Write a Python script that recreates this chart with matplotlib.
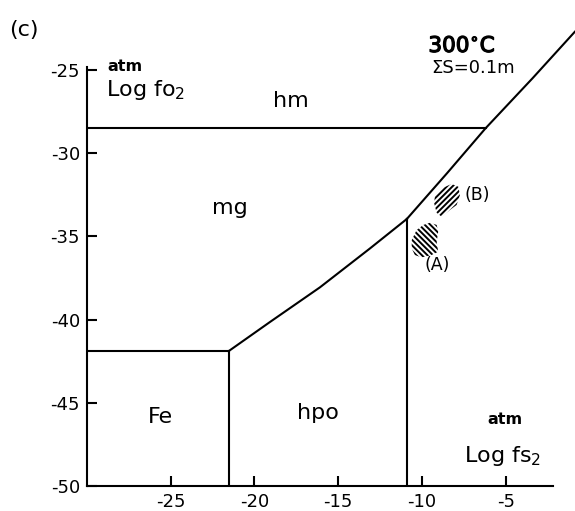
import numpy as np
import matplotlib
matplotlib.use('Agg')
import matplotlib.pyplot as plt
import matplotlib.patheffects as pe

# phase boundaries, log fS2 (x) vs log fO2 (y), 300 C
hm_mg_y = -28.5
hm_mg_x = [-30, -6.2]
fe_mg_y = -41.9
fe_mg_x = [-30, -21.55]
fe_hpo_x = -21.55
hpo_py_x = -10.9

mg_hpo_x = [-21.55, -19.07, -16.09, -13.1, -10.9]
mg_hpo_y = [-41.9, -40.14, -38.06, -35.72, -33.95]

upper_x = [-10.9, -8.5, -6.2, -3.4, -0.87]
upper_y = [-33.95, -31.2, -28.5, -25.5, -22.7]

# shaded sample fields
b_x = [-9.22, -8.82, -8.23, -7.83, -7.73, -7.93, -8.33, -8.82, -9.12, -9.27]
b_y = [-32.51, -32.11, -31.85, -32.01, -32.51, -33.11, -33.41, -33.82, -33.58, -33.01]
a_x = [-10.61, -10.32, -9.92, -9.52, -9.12, -9.03, -9.12, -9.03, -9.43, -10.02, -10.42, -10.61]
a_y = [-35.22, -34.62, -34.31, -34.18, -34.31, -34.72, -35.32, -35.92, -36.12, -36.26, -36.12, -35.72]

xticks = [-25, -20, -15, -10, -5]
yticks = [-50, -45, -40, -35, -30, -25]


def main():
    plt.rcParams['axes.unicode_minus'] = False
    plt.rcParams['mathtext.default'] = 'regular'
    plt.rcParams['hatch.linewidth'] = 1.4
    plt.rcParams['font.family'] = 'DejaVu Sans'

    fig = plt.figure(figsize=(5.75, 5.11), dpi=100)
    ax = fig.add_axes([0.1513, 0.0489, 0.849, 0.8906])
    lw = 1.5

    ax.plot(hm_mg_x, [hm_mg_y, hm_mg_y], color='black', lw=lw)
    ax.plot(fe_mg_x, [fe_mg_y, fe_mg_y], color='black', lw=lw)
    ax.plot([fe_hpo_x, fe_hpo_x], [-50, fe_mg_y], color='black', lw=lw)
    ax.plot([hpo_py_x, hpo_py_x], [-50, upper_y[0]], color='black', lw=lw)
    ax.plot(mg_hpo_x, mg_hpo_y, color='black', lw=lw)
    ax.plot(upper_x, upper_y, color='black', lw=lw, clip_on=False)

    ax.fill(b_x, b_y, facecolor='none', edgecolor='black', hatch='//////', linewidth=0)
    ax.fill(a_x, a_y, facecolor='none', edgecolor='black', hatch='\\\\\\\\\\\\', linewidth=0)

    ax.set_xlim(-30, -0.85)
    ax.set_ylim(-50, -22.65)
    ax.set_xticks(xticks)
    ax.set_yticks(yticks)
    ax.tick_params(direction='in', length=7, width=1.5, labelsize=13, pad=5)
    for s in ['top', 'right']:
        ax.spines[s].set_visible(False)
    ax.spines['left'].set_bounds(-50, -24.8)
    ax.spines['bottom'].set_bounds(-30, -2.2)
    for s in ['left', 'bottom']:
        ax.spines[s].set_linewidth(lw)

    ax.text(-28.8, -24.76, 'atm', fontsize=11.5, fontweight='bold', va='center')
    ax.text(-28.87, -26.2, 'Log fo$_2$', fontsize=16, va='center')
    ax.text(-17.82, -26.86, 'hm', fontsize=16, ha='center', va='center')
    ax.text(-21.46, -33.3, 'mg', fontsize=16, ha='center', va='center')
    ax.text(-25.64, -45.85, 'Fe', fontsize=16, ha='center', va='center')
    ax.text(-16.2, -45.6, 'hpo', fontsize=16, ha='center', va='center')
    ax.text(-7.61, -23.56, '300$^{\\circ}$C', fontsize=15.5, ha='center', va='center',
            path_effects=[pe.withStroke(linewidth=0.9, foreground='black')])
    ax.text(-6.96, -24.88, '\u03a3S=0.1m', fontsize=13, ha='center', va='center')
    ax.text(-5.04, -46.03, 'atm', fontsize=11.5, fontweight='bold', ha='center', va='center')
    ax.text(-5.16, -48.2, 'Log fs$_2$', fontsize=16, ha='center', va='center')
    ax.text(-6.72, -32.5, '(B)', fontsize=12.5, ha='center', va='center')
    ax.text(-9.1, -36.7, '(A)', fontsize=12.5, ha='center', va='center')

    fig.text(0.042, 0.941, '(c)', fontsize=16, ha='center', va='center')

    fig.savefig('out.png', dpi=100)


if __name__ == '__main__':
    main()
